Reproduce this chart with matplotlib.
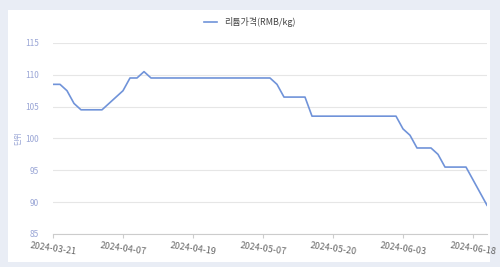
import matplotlib
matplotlib.use('Agg')
import matplotlib.pyplot as plt
from matplotlib.patches import Rectangle

plt.rcParams['font.family'] = ['Noto Sans CJK KR', 'DejaVu Sans']

# Chinese trading days, 2024
dates = ['03-21', '03-22', '03-25', '03-26', '03-27', '03-28', '03-29', '04-01', '04-02', '04-03',
         '04-07', '04-08', '04-09', '04-10', '04-11', '04-12', '04-15', '04-16', '04-17', '04-18',
         '04-19', '04-22', '04-23', '04-24', '04-25', '04-26', '04-28', '04-29', '04-30', '05-06',
         '05-07', '05-08', '05-09', '05-10', '05-11', '05-13', '05-14', '05-15', '05-16', '05-17',
         '05-20', '05-21', '05-22', '05-23', '05-24', '05-27', '05-28', '05-29', '05-30', '05-31',
         '06-03', '06-04', '06-05', '06-06', '06-07', '06-11', '06-12', '06-13', '06-14', '06-17',
         '06-18', '06-19', '06-20']
dates = ['2024-' + d for d in dates]

price = [108.5, 108.5, 107.5, 105.5, 104.5, 104.5, 104.5, 104.5, 105.5, 106.5,
         107.5, 109.5, 109.5, 110.5, 109.5, 109.5, 109.5, 109.5, 109.5, 109.5,
         109.5, 109.5, 109.5, 109.5, 109.5, 109.5, 109.5, 109.5, 109.5, 109.5,
         109.5, 109.5, 108.5, 106.5, 106.5, 106.5, 106.5, 103.5, 103.5, 103.5,
         103.5, 103.5, 103.5, 103.5, 103.5, 103.5, 103.5, 103.5, 103.5, 103.5,
         101.5, 100.5, 98.5, 98.5, 98.5, 97.5, 95.5, 95.5, 95.5, 95.5,
         93.5, 91.5, 89.5]

series_name = '리튬가격(RMB/kg)'
y_ticks = [85, 90, 95, 100, 105, 110, 115]

line_color = '#7093d9'
tick_blue = '#9aa6d6'

fig = plt.figure(figsize=(5, 2.67), dpi=100, facecolor='#e9edf5')
fig.patches.append(Rectangle((8 / 500, 5 / 267), 482 / 500, 252 / 267,
                             transform=fig.transFigure, facecolor='white',
                             edgecolor='none', zorder=-10))

ax = fig.add_axes([0.106, 0.124, 0.868, 0.715])
ax.set_facecolor('white')

x = list(range(len(dates)))
ax.plot(x, price, color=line_color, lw=1.2, label=series_name)

ax.set_xlim(0, len(dates) - 1)
ax.set_ylim(85, 115)
ax.set_yticks(y_ticks)
ax.grid(axis='y', color='#e6e6e6', lw=0.8)
ax.set_axisbelow(True)

ax.set_xticks(x[::10])
ax.set_xticklabels(dates[::10], rotation=-8, ha='center', fontsize=6.5, color='#666666')
ax.tick_params(axis='x', length=3, color='#cccccc', pad=2)
ax.tick_params(axis='y', length=0, labelsize=6, labelcolor=tick_blue, pad=10)

for s in ['top', 'right', 'left']:
    ax.spines[s].set_visible(False)
ax.spines['bottom'].set_color('#cccccc')

ax.set_ylabel('단위', fontsize=5.5, color=tick_blue, labelpad=2)

fig.legend(loc='upper center', bbox_to_anchor=(0.5, 0.965), frameon=False,
           fontsize=6.5, handlelength=1.4, labelcolor='#444444')

fig.savefig('out.png', dpi=100, facecolor=fig.get_facecolor())
